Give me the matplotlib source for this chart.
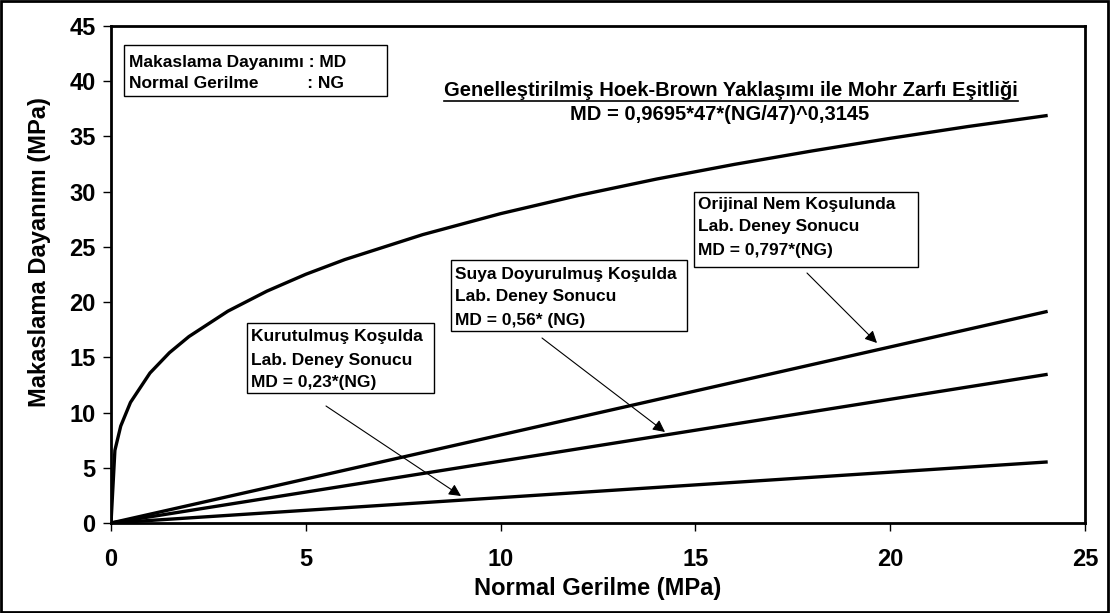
import matplotlib
matplotlib.use("Agg")
import matplotlib.pyplot as plt
from matplotlib.patches import Rectangle, FancyArrowPatch

plt.rcParams['font.family'] = ['Liberation Sans', 'DejaVu Sans']
plt.rcParams['font.weight'] = 'bold'

# ---- data ----
hb_x = [0, 0.1, 0.25, 0.5, 1, 1.5, 2, 3, 4, 5, 6, 8, 10, 12, 14, 16, 18, 20, 22, 24]
hb_y = [0, 6.58, 8.78, 10.92, 13.58, 15.42, 16.88, 19.18, 20.99, 22.52, 23.85,
        26.11, 28.01, 29.66, 31.14, 32.47, 33.69, 34.83, 35.90, 36.88]
lin_x = [0, 24]
orijinal_y = [0, 19.13]
suya_y = [0, 13.44]
kuru_y = [0, 5.52]

x_ticks = [0, 5, 10, 15, 20, 25]
y_ticks = [0, 5, 10, 15, 20, 25, 30, 35, 40, 45]

W, H = 1110, 613
fig = plt.figure(figsize=(W / 100, H / 100), dpi=100)

def P(x, y):
    return (x / W, 1 - y / H)

L, R, T, B = 111, 1085, 26, 523
ax = fig.add_axes([L / W, 1 - B / H, (R - L) / W, (B - T) / H])
ax.set_xlim(0, 25)
ax.set_ylim(0, 45)
ax.set_xticks(x_ticks)
ax.set_yticks(y_ticks)
ax.tick_params(direction='out', length=6, width=1, labelsize=17)
ax.tick_params(axis='x', pad=12)
ax.tick_params(axis='y', pad=5)
for lab in ax.get_xticklabels() + ax.get_yticklabels():
    lab.set_fontweight('bold')
for s in ax.spines.values():
    s.set_linewidth(2)
    s.set_color('black')

ax.set_xlabel('Normal Gerilme (MPa)', fontsize=17, fontweight='bold', va='center')
ax.set_ylabel('Makaslama Dayanımı (MPa)', fontsize=17, fontweight='bold', va='center')
ax.yaxis.set_label_coords((40 - L) / (R - L), (B - 252) / (B - T))
ax.xaxis.set_label_coords(0.5, (B - 589) / (B - T))

lw = 2.4
ax.plot(hb_x, hb_y, color='black', lw=lw, solid_joinstyle='round')
ax.plot(lin_x, orijinal_y, color='black', lw=lw)
ax.plot(lin_x, suya_y, color='black', lw=lw)
ax.plot(lin_x, kuru_y, color='black', lw=lw)

# ---- boxes with text ----
def box(x0, y0, x1, y1, lines, tx, ty, dy, fs=12.5):
    fx0, fy1 = P(x0, y1)
    fx1, fy0 = P(x1, y0)
    r = Rectangle((fx0, fy1), fx1 - fx0, fy0 - fy1, transform=fig.transFigure,
                  facecolor='white', edgecolor='black', lw=1.0, zorder=5)
    fig.add_artist(r)
    for i, t in enumerate(lines):
        fig.text(*P(tx, ty + i * dy), t, fontsize=fs, fontweight='bold',
                 ha='left', va='center', zorder=6)

box(124, 45, 387, 96, ['Makaslama Dayanımı : MD', 'Normal Gerilme          : NG'], 129, 62, 21)
box(694, 192, 918, 267, ['Orijinal Nem Koşulunda', 'Lab. Deney Sonucu', 'MD = 0,797*(NG)'], 698, 204, 23)
box(451, 260, 687, 331, ['Suya Doyurulmuş Koşulda', 'Lab. Deney Sonucu', 'MD = 0,56* (NG)'], 455, 274, 23)
box(247, 323, 434, 393, ['Kurutulmuş Koşulda', 'Lab. Deney Sonucu', 'MD = 0,23*(NG)'], 251, 337, 23)

# ---- title ----
t1 = fig.text(*P(731, 91), 'Genelleştirilmiş Hoek-Brown Yaklaşımı ile Mohr Zarfı Eşitliği',
              fontsize=14.5, fontweight='bold', ha='center', va='center')
fig.text(*P(720, 114), 'MD = 0,9695*47*(NG/47)^0,3145',
         fontsize=14.5, fontweight='bold', ha='center', va='center')
fig.canvas.draw()
bb = t1.get_window_extent().transformed(fig.transFigure.inverted())
uy = P(0, 101)[1]
fig.add_artist(plt.Line2D([bb.x0, bb.x1], [uy, uy], transform=fig.transFigure,
                          color='black', lw=1.2))

# ---- arrows ----
arrows = [((807, 273), (877, 343)), ((542, 338), (665, 432)), ((326, 406), (461, 496))]
for (sx, sy), (ex, ey) in arrows:
    fig.add_artist(FancyArrowPatch(
        P(sx, sy), P(ex, ey), transform=fig.transFigure, arrowstyle='-|>',
        mutation_scale=18, lw=0.8, color='black', shrinkA=0, shrinkB=0))

# figure border
fig.add_artist(Rectangle((0.001, 0.002), 0.997, 0.996, transform=fig.transFigure,
                         fill=False, edgecolor='black', lw=2))

fig.savefig('out.png', dpi=100, facecolor='white')
